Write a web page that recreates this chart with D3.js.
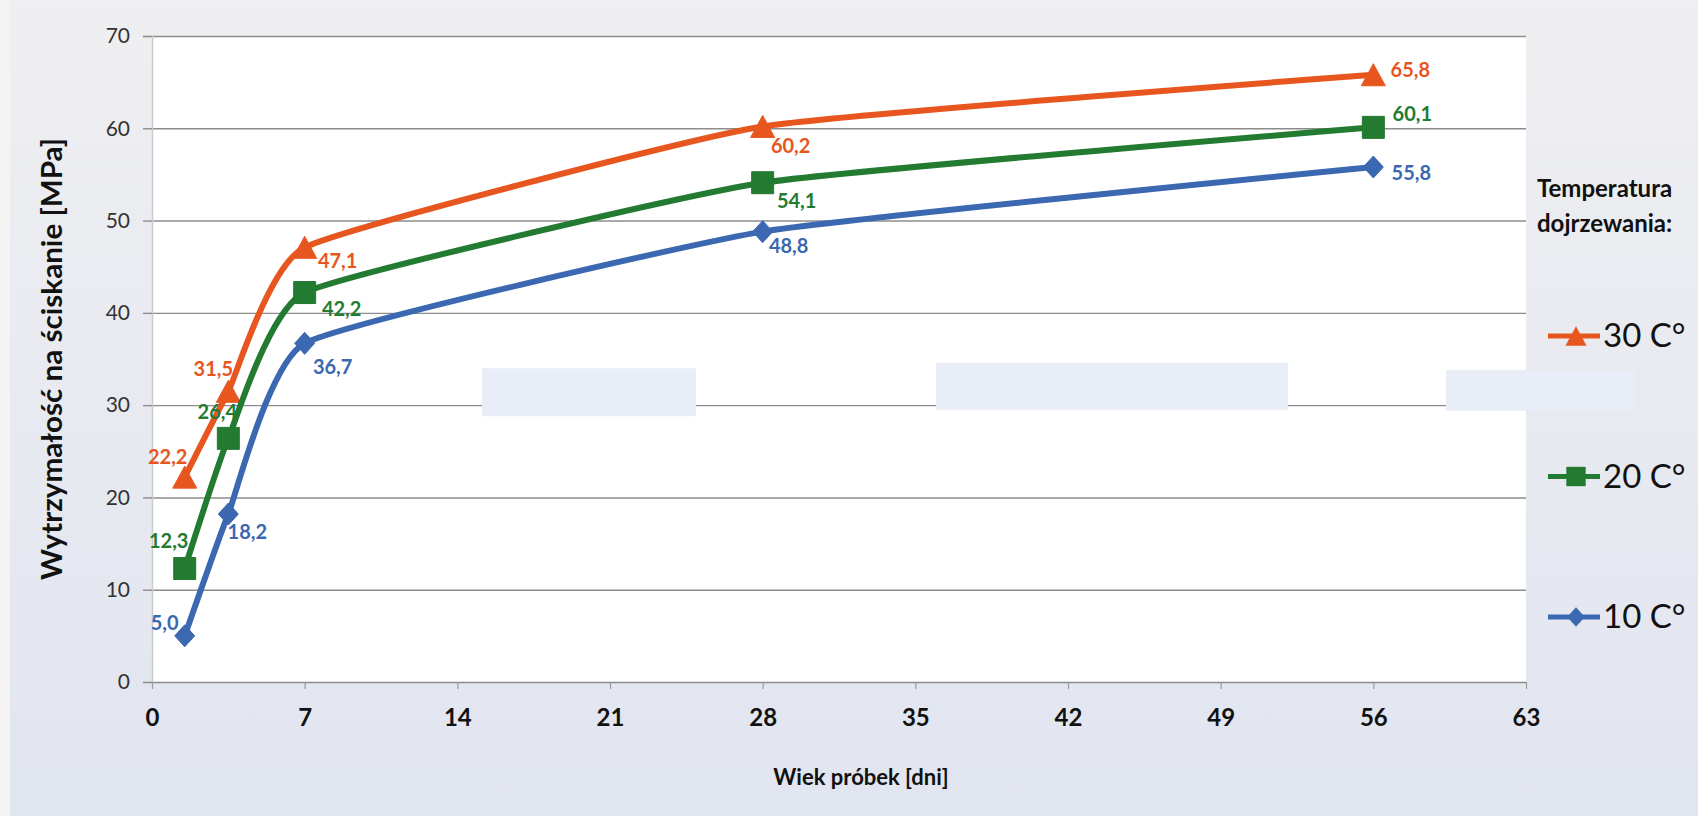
<!DOCTYPE html>
<html>
<head>
<meta charset="utf-8">
<script src="https://cdn.jsdelivr.net/npm/d3@7"></script>
<style>
  html, body { margin: 0; padding: 0; background: #eceef2; }
  svg { display: block; font-family: Lato, "Open Sans", "DejaVu Sans", sans-serif; }
</style>
</head>
<body>
<svg id="chart" width="1698" height="816"></svg>
<script>
// ---------- data ----------
const days = [1.5, 3.5, 7, 28, 56];
const seriesNames = ["30 C°", "20 C°", "10 C°"];
const values30 = [22.2, 31.5, 47.1, 60.2, 65.8];
const values20 = [12.3, 26.4, 42.2, 54.1, 60.1];
const values10 = [5.0, 18.2, 36.7, 48.8, 55.8];
const xTickValues = [0, 7, 14, 21, 28, 35, 42, 49, 56, 63];
const yTickValues = [0, 10, 20, 30, 40, 50, 60, 70];
const xTitle = "Wiek próbek [dni]";
const yTitle = "Wytrzymałość na ściskanie [MPa]";
const legendTitle = ["Temperatura", "dojrzewania:"];

// ---------- styling / layout ----------
const colors = ["#e8561f", "#237a31", "#3b68b1"];
const markerTypes = ["triangle", "square", "diamond"];
// label offsets (px) relative to each point, like Excel label placement
const labelOffsets = [
  [[-17, -20], [-15, -23], [33, 13], [28, 19], [37, -5]],
  [[-16, -28], [-11, -27], [37, 16], [34, 18], [39, -14]],
  [[-20, -13], [19, 18], [28, 23], [26, 14], [38, 6]]
];
// light blank patches visible in the original picture (data units)
const patches = [
  {x0: 15.13, x1: 24.94, y0: 28.8, y1: 34.0},
  {x0: 35.95, x1: 52.08, y0: 29.5, y1: 34.6},
  {x0: 59.33, x1: 67.99, y0: 29.4, y1: 33.8}
];

const W = 1698, H = 816;
const plot = {left: 152, right: 1526, top: 36, bottom: 682};

const svg = d3.select("#chart");
const defs = svg.append("defs");
const grad = defs.append("linearGradient").attr("id", "bg").attr("x1", 0).attr("y1", 0).attr("x2", 0).attr("y2", 1);
grad.append("stop").attr("offset", "0%").attr("stop-color", "#efeff1");
grad.append("stop").attr("offset", "100%").attr("stop-color", "#e1e5f0");

svg.append("rect").attr("width", W).attr("height", H).attr("fill", "url(#bg)");
svg.append("rect").attr("width", 10).attr("height", H).attr("fill", "#f4f4f5");

const x = d3.scaleLinear().domain([0, 63]).range([plot.left, plot.right]);
const y = d3.scaleLinear().domain([0, 70]).range([plot.bottom, plot.top]);

// plot area
svg.append("rect")
  .attr("x", plot.left).attr("y", plot.top)
  .attr("width", plot.right - plot.left).attr("height", plot.bottom - plot.top)
  .attr("fill", "#ffffff");

// gridlines
const grid = svg.append("g").attr("transform", `translate(${plot.left},0)`)
  .call(d3.axisLeft(y).tickValues(yTickValues.filter(v => v > 0)).tickSize(-(plot.right - plot.left)).tickFormat(""));
grid.select(".domain").remove();
grid.selectAll("line").attr("stroke", "#8c8c8c").attr("stroke-width", 1.4);

// y axis
const yAxis = svg.append("g").attr("transform", `translate(${plot.left},0)`)
  .call(d3.axisLeft(y).tickValues(yTickValues).tickSize(9).tickPadding(13).tickFormat(d3.format("d")));
yAxis.select(".domain").attr("stroke", "#c9c9c9").attr("stroke-width", 1.4);
yAxis.selectAll(".tick line").attr("stroke", "#8c8c8c").attr("stroke-width", 1.4);
yAxis.selectAll(".tick text").attr("fill", "#333").style("font-size", "21px").style("font-family", "Lato, sans-serif");

// blank patches
svg.append("g").selectAll("rect").data(patches).join("rect")
  .attr("x", d => x(d.x0)).attr("y", d => y(d.y1))
  .attr("width", d => x(d.x1) - x(d.x0)).attr("height", d => y(d.y0) - y(d.y1))
  .attr("fill", "#e9edf7");

// x axis
const xAxis = svg.append("g").attr("transform", `translate(0,${plot.bottom})`)
  .call(d3.axisBottom(x).tickValues(xTickValues).tickSize(7).tickPadding(20).tickSizeOuter(0).tickFormat(d3.format("d")));
xAxis.select(".domain").attr("stroke", "#8c8c8c").attr("stroke-width", 1.4);
xAxis.selectAll(".tick line").attr("stroke", "#9a9a9a").attr("stroke-width", 1.2);
xAxis.selectAll(".tick text").attr("fill", "#111").style("font-size", "24px").style("font-weight", "bold").style("font-family", "Lato, sans-serif");

// axis titles
svg.append("text").attr("x", 861).attr("y", 785).attr("text-anchor", "middle")
  .style("font-size", "22px").style("font-weight", "bold").attr("fill", "#111").text(xTitle);
svg.append("text").attr("transform", `translate(62,${(plot.top + plot.bottom) / 2}) rotate(-90)`)
  .attr("text-anchor", "middle").style("font-size", "28px").style("font-weight", "bold").attr("fill", "#111")
  .attr("textLength", 442).attr("lengthAdjust", "spacingAndGlyphs")
  .text(yTitle);

// marker drawing
function markerPath(type, s) {
  const p = d3.path();
  if (type === "triangle") {
    const w = 24 * s, h = 22 * s;
    p.moveTo(0, -h / 2); p.lineTo(w / 2, h / 2); p.lineTo(-w / 2, h / 2); p.closePath();
  } else if (type === "square") {
    const a = 11 * s;
    p.rect(-a, -a, 2 * a, 2 * a);
  } else {
    const hw = 10 * s, hh = 11 * s;
    p.moveTo(0, -hh); p.lineTo(hw, 0); p.lineTo(0, hh); p.lineTo(-hw, 0); p.closePath();
  }
  return p.toString();
}

const allValues = [values30, values20, values10];
const fmt = v => d3.format(".1f")(v).replace(".", ",");
const line = d3.line().x(d => x(d.day)).y(d => y(d.v)).curve(d3.curveCardinal.tension(0.6));

allValues.forEach((vals, si) => {
  const pts = vals.map((v, i) => ({day: days[i], v, i}));
  const g = svg.append("g");
  g.append("path").datum(pts).attr("d", line)
    .attr("fill", "none").attr("stroke", colors[si]).attr("stroke-width", 6)
    .attr("stroke-linejoin", "round").attr("stroke-linecap", "round");
  g.selectAll("path.m").data(pts).join("path").attr("class", "m")
    .attr("transform", d => `translate(${x(d.day)},${y(d.v)})`)
    .attr("d", markerPath(markerTypes[si], 1))
    .attr("fill", colors[si]).attr("stroke", colors[si]).attr("stroke-width", 1).attr("stroke-linejoin", "round");
  g.selectAll("text").data(pts).join("text")
    .attr("x", d => x(d.day) + labelOffsets[si][d.i][0])
    .attr("y", d => y(d.v) + labelOffsets[si][d.i][1])
    .attr("dy", "0.36em").attr("text-anchor", "middle")
    .style("font-size", "20px").style("font-weight", "bold")
    .attr("fill", colors[si]).text(d => fmt(d.v));
});

// legend
const legend = svg.append("g");
legend.selectAll("text.t").data(legendTitle).join("text").attr("class", "t")
  .attr("x", 1537).attr("y", (d, i) => 197 + i * 35)
  .style("font-size", "24px").style("font-weight", "bold").attr("fill", "#111").text(d => d);
seriesNames.forEach((name, i) => {
  const cy = 336 + i * 140.5;
  const g = legend.append("g").attr("transform", `translate(0,${cy})`);
  g.append("line").attr("x1", 1548).attr("x2", 1600).attr("y1", 0).attr("y2", 0)
    .attr("stroke", colors[i]).attr("stroke-width", 5);
  g.append("path").attr("transform", `translate(1576,0)`).attr("d", markerPath(markerTypes[i], 0.88))
    .attr("fill", colors[i]);
  g.append("text").attr("x", 1603).attr("y", 11).style("font-size", "33px").attr("fill", "#111").text(name);
});
</script>
</body>
</html>
